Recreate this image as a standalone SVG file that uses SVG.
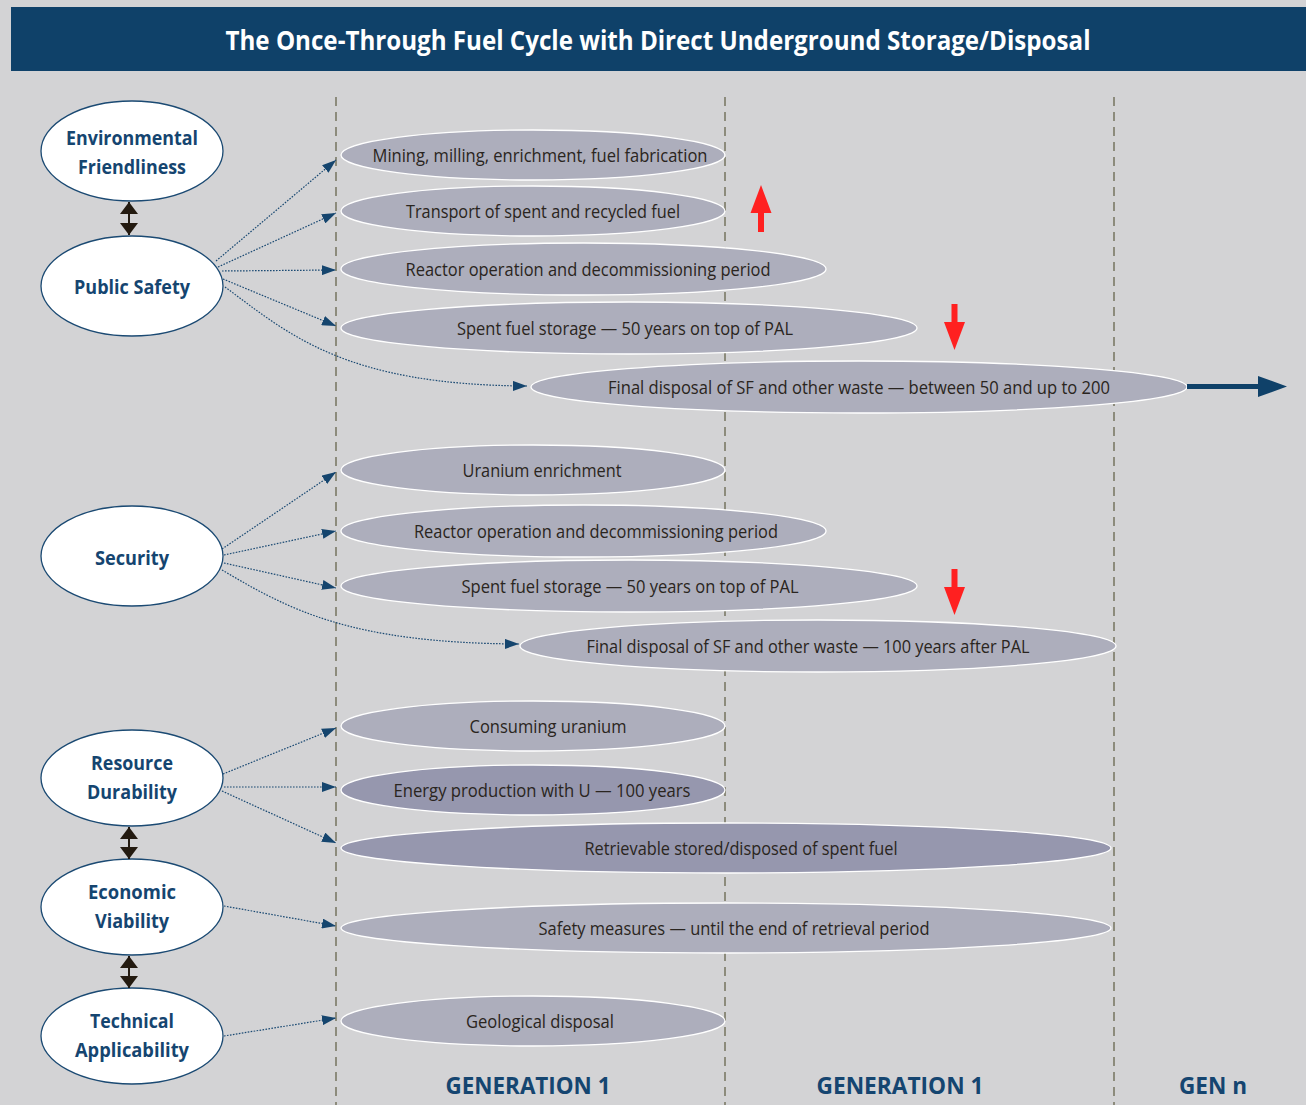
<svg xmlns="http://www.w3.org/2000/svg" width="1306" height="1105" viewBox="0 0 1306 1105">
<defs>
<style>
.bg{fill:#d3d3d5}
.title{font-family:"Open Sans","Liberation Sans",sans-serif;font-weight:bold;font-size:26px;fill:#ffffff}
.guide{stroke:#8c8b7c;stroke-width:2;stroke-dasharray:9 6;fill:none}
.crit ellipse{fill:#ffffff;stroke:#1b4a73;stroke-width:1.3}
.crit text{font-family:"Open Sans","Liberation Sans",sans-serif;font-weight:bold;font-size:20px;fill:#154570;text-anchor:middle}
.step ellipse{fill:#adaebc;stroke:#ffffff;stroke-width:1.3}
.step.dark ellipse{fill:#9697ae}
.step text{font-family:"Open Sans","Liberation Sans",sans-serif;font-size:18px;fill:#2a2520;text-anchor:middle}
.conn{stroke:#1b4a73;stroke-width:1.2;stroke-dasharray:1.6 1.4;fill:none;marker-end:url(#ah)}
.dbl{stroke:#231a10;stroke-width:2;fill:none;marker-start:url(#dh);marker-end:url(#dh)}
.gen{font-family:"Open Sans","Liberation Sans",sans-serif;font-weight:bold;font-size:24px;fill:#154570;text-anchor:middle}
.red{fill:#ff2020}
</style>
<marker id="ah" viewBox="0 0 14 10" refX="14" refY="5" markerWidth="14" markerHeight="10" markerUnits="userSpaceOnUse" orient="auto">
<path d="M0,0 L14,5 L0,10 Z" fill="#15456e"/>
</marker>
<marker id="dh" viewBox="0 0 12 18" refX="12" refY="9" markerWidth="12" markerHeight="18" markerUnits="userSpaceOnUse" orient="auto-start-reverse">
<path d="M0,0 L12,9 L0,18 Z" fill="#231a10"/>
</marker>
</defs>
<rect class="bg" x="0" y="0" width="1306" height="1105"/>
<g id="title">
<rect x="11" y="7" width="1295" height="64" fill="#0f4169"/>
<text class="title" x="658" y="50" text-anchor="middle" textLength="865" lengthAdjust="spacingAndGlyphs">The Once-Through Fuel Cycle with Direct Underground Storage/Disposal</text>
</g>
<g id="guides">
<line class="guide" x1="336" y1="97" x2="336" y2="1105"/>
<line class="guide" x1="725" y1="97" x2="725" y2="1105"/>
<line class="guide" x1="1114" y1="97" x2="1114" y2="1105"/>
</g>
<g id="steps">
<g id="s1" class="step"><ellipse cx="533" cy="155" rx="192" ry="25"/><text x="540" y="162" textLength="335" lengthAdjust="spacingAndGlyphs">Mining, milling, enrichment, fuel fabrication</text></g>
<g id="s2" class="step"><ellipse cx="533" cy="211" rx="192" ry="25"/><text x="543" y="218" textLength="274" lengthAdjust="spacingAndGlyphs">Transport of spent and recycled fuel</text></g>
<g id="s3" class="step"><ellipse cx="583.5" cy="269" rx="242.5" ry="26"/><text x="588" y="276" textLength="365" lengthAdjust="spacingAndGlyphs">Reactor operation and decommissioning period</text></g>
<g id="s4" class="step"><ellipse cx="629" cy="328" rx="288" ry="26"/><text x="625" y="335" textLength="336" lengthAdjust="spacingAndGlyphs">Spent fuel storage — 50 years on top of PAL</text></g>
<g id="s5" class="step"><ellipse cx="859" cy="387" rx="328" ry="26"/><text x="859" y="394" textLength="502" lengthAdjust="spacingAndGlyphs">Final disposal of SF and other waste — between 50 and up to 200</text></g>
<g id="s6" class="step"><ellipse cx="533" cy="470" rx="192" ry="25"/><text x="542" y="477" textLength="159" lengthAdjust="spacingAndGlyphs">Uranium enrichment</text></g>
<g id="s7" class="step"><ellipse cx="583.5" cy="531" rx="242.5" ry="26"/><text x="596" y="538" textLength="364" lengthAdjust="spacingAndGlyphs">Reactor operation and decommissioning period</text></g>
<g id="s8" class="step"><ellipse cx="629" cy="586" rx="288" ry="26"/><text x="630" y="593" textLength="337" lengthAdjust="spacingAndGlyphs">Spent fuel storage — 50 years on top of PAL</text></g>
<g id="s9" class="step"><ellipse cx="818" cy="646" rx="298" ry="26"/><text x="808" y="653" textLength="443" lengthAdjust="spacingAndGlyphs">Final disposal of SF and other waste — 100 years after PAL</text></g>
<g id="s10" class="step"><ellipse cx="533" cy="726" rx="192" ry="25"/><text x="548" y="733" textLength="157" lengthAdjust="spacingAndGlyphs">Consuming uranium</text></g>
<g id="s11" class="step dark"><ellipse cx="533" cy="790" rx="192" ry="25"/><text x="542" y="797" textLength="297" lengthAdjust="spacingAndGlyphs">Energy production with U — 100 years</text></g>
<g id="s12" class="step dark"><ellipse cx="726" cy="848" rx="385" ry="25"/><text x="741" y="855" textLength="313" lengthAdjust="spacingAndGlyphs">Retrievable stored/disposed of spent fuel</text></g>
<g id="s13" class="step"><ellipse cx="726" cy="928" rx="385" ry="25"/><text x="734" y="935" textLength="391" lengthAdjust="spacingAndGlyphs">Safety measures — until the end of retrieval period</text></g>
<g id="s14" class="step"><ellipse cx="533" cy="1021" rx="192" ry="25"/><text x="540" y="1028" textLength="148" lengthAdjust="spacingAndGlyphs">Geological disposal</text></g>
</g>
<g id="criteria">
<g id="c1" class="crit"><ellipse cx="132" cy="151" rx="91" ry="50"/><text x="132" y="145" textLength="132" lengthAdjust="spacingAndGlyphs">Environmental</text><text x="132" y="174" textLength="108" lengthAdjust="spacingAndGlyphs">Friendliness</text></g>
<g id="c2" class="crit"><ellipse cx="132" cy="286" rx="91" ry="50"/><text x="132" y="294" textLength="116" lengthAdjust="spacingAndGlyphs">Public Safety</text></g>
<g id="c3" class="crit"><ellipse cx="132" cy="556" rx="91" ry="50"/><text x="132" y="565" textLength="74" lengthAdjust="spacingAndGlyphs">Security</text></g>
<g id="c4" class="crit"><ellipse cx="132" cy="778" rx="91" ry="48"/><text x="132" y="770" textLength="82" lengthAdjust="spacingAndGlyphs">Resource</text><text x="132" y="799" textLength="90" lengthAdjust="spacingAndGlyphs">Durability</text></g>
<g id="c5" class="crit"><ellipse cx="132" cy="907" rx="91" ry="48"/><text x="132" y="899" textLength="88" lengthAdjust="spacingAndGlyphs">Economic</text><text x="132" y="928" textLength="74" lengthAdjust="spacingAndGlyphs">Viability</text></g>
<g id="c6" class="crit"><ellipse cx="132" cy="1036" rx="91" ry="48"/><text x="132" y="1028" textLength="84" lengthAdjust="spacingAndGlyphs">Technical</text><text x="132" y="1057" textLength="114" lengthAdjust="spacingAndGlyphs">Applicability</text></g>
</g>
<g id="connectors">
<line class="dbl" x1="129" y1="202" x2="129" y2="235"/>
<line class="dbl" x1="129" y1="827" x2="129" y2="859"/>
<line class="dbl" x1="129" y1="956" x2="129" y2="988"/>
<path class="conn" d="M216,261 L336,160"/>
<path class="conn" d="M218,267 L336,213"/>
<path class="conn" d="M222,271 L336,270"/>
<path class="conn" d="M223,279 L336,326"/>
<path class="conn" d="M225,287 C290,335 345,385 527,386"/>
<path class="conn" d="M222,549 L336,472"/>
<path class="conn" d="M224,555 L336,531"/>
<path class="conn" d="M224,563 L336,588"/>
<path class="conn" d="M222,570 C290,610 350,643 519,644"/>
<path class="conn" d="M223,774 L336,728"/>
<path class="conn" d="M224,787 L336,787"/>
<path class="conn" d="M222,791 L336,843"/>
<path class="conn" d="M224,906 L336,926"/>
<path class="conn" d="M224,1036 L336,1018"/>
</g>
<g id="indicators">
<path class="red" d="M761,185 L771.5,213 L764,213 L764,232 L758,232 L758,213 L750.5,213 Z"/>
<path class="red" d="M954.5,350 L944,322 L951.5,322 L951.5,304 L957.5,304 L957.5,322 L965,322 Z"/>
<path class="red" d="M954.5,615 L944,587 L951.5,587 L951.5,569 L957.5,569 L957.5,587 L965,587 Z"/>
<path d="M1187,384 L1258,384 L1258,376 L1287,386.5 L1258,397 L1258,389 L1187,389 Z" fill="#0f4169"/>
</g>
<g id="generations">
<text class="gen" x="528" y="1094" textLength="165" lengthAdjust="spacingAndGlyphs">GENERATION 1</text>
<text class="gen" x="900" y="1094" textLength="167" lengthAdjust="spacingAndGlyphs">GENERATION 1</text>
<text class="gen" x="1213" y="1094" textLength="68" lengthAdjust="spacingAndGlyphs">GEN n</text>
</g>
</svg>
